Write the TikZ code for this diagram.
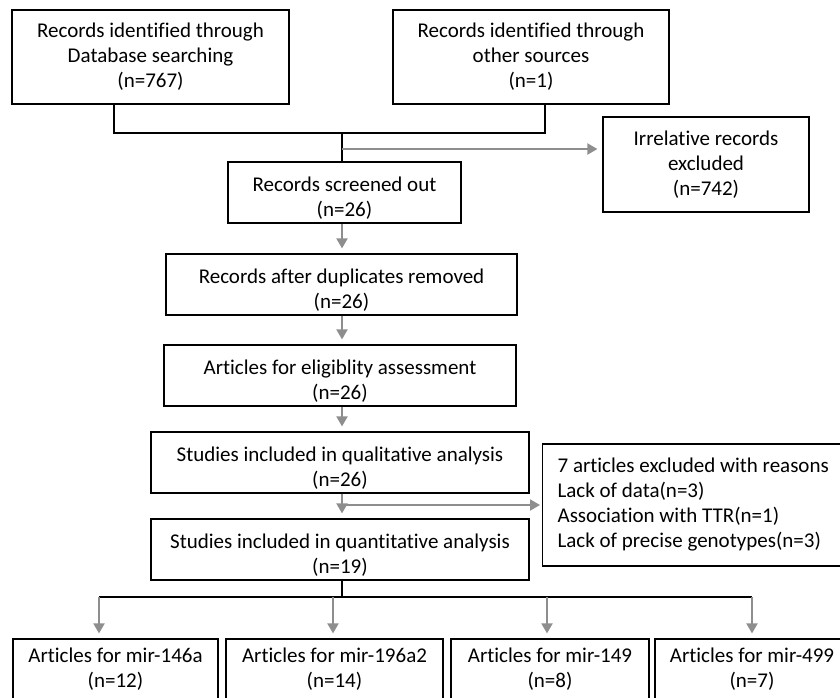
\documentclass[tikz,border=0pt]{standalone}
\usepackage{fontspec}
\setmainfont{Carlito}[Ligatures=NoCommon]
\usetikzlibrary{arrows.meta}
\definecolor{arrgray}{HTML}{8E8E8E}
\tikzset{bx/.style={draw, line width=1.2pt, align=center, inner sep=0pt, font=\fontsize{21}{25}\selectfont}}
\tikzset{ga/.style={draw=arrgray, line width=2pt, shorten >=5pt, -{Triangle[length=10pt,width=11pt]}}}
\tikzset{ln/.style={draw=black, line width=1.2pt}}
\newcommand{\tallrow}{\rule{0pt}{25pt}}

\begin{document}
\begin{tikzpicture}[x=1pt, y=-1pt]
    \path[use as bounding box, clip] (0,0) rectangle (840,697);
    % identification
    \node[bx, minimum width=277pt, minimum height=94pt] (db) at (150.5,57) {Records identified through\\Database searching\\(n=767)};
    \node[bx, minimum width=276pt, minimum height=94pt] (os) at (531,57) {Records identified through\\other sources\\(n=1)};
    \node[bx, minimum width=206pt, minimum height=95pt] (irr) at (706,164.5) {Irrelative records\\excluded\\(n=742)};
    % screening chain
    \node[bx, minimum width=233pt, minimum height=61pt] (scr) at (344.5,192.5) {\tallrow Records screened out\\(n=26)};
    \node[bx, minimum width=351pt, minimum height=61pt] (dup) at (341.5,284.5) {\tallrow Records after duplicates removed\\(n=26)};
    \node[bx, minimum width=352pt, minimum height=61pt] (elig) at (340,375.5) {\tallrow Articles for eligiblity assessment\\(n=26)};
    \node[bx, minimum width=378pt, minimum height=61pt] (ql) at (340,462.5) {\tallrow Studies included in qualitative analysis\\(n=26)};
    \node[bx, minimum width=378pt, minimum height=61pt] (qt) at (340,549.5) {\tallrow Studies included in quantitative analysis\\(n=19)};
    \node[bx, align=left, inner xsep=15pt, minimum height=122pt, anchor=west] (ex) at (542,505) {7 articles excluded with reasons\\Lack of data(n=3)\\Association with TTR(n=1)\\Lack of precise genotypes(n=3)};
    % per-mirna boxes
    \node[bx, minimum width=205pt, minimum height=61pt] (m1) at (115.5,669.5) {Articles for mir-146a\\(n=12)};
    \node[bx, minimum width=217pt, minimum height=61pt] (m2) at (334.5,669.5) {Articles for mir-196a2\\(n=14)};
    \node[bx, minimum width=198pt, minimum height=61pt] (m3) at (550,669.5) {Articles for mir-149\\(n=8)};
    \node[bx, minimum width=194pt, minimum height=61pt] (m4) at (752,669.5) {Articles for mir-499\\(n=7)};

    \coordinate (ja) at (114,133);
    \coordinate (jc) at (545,133);
    \coordinate (jm) at (342,133);
    \coordinate (jx) at (342,149);
    \coordinate (jq) at (342,505);
    \coordinate (jb) at (342,597);
    \coordinate (s1) at (99,597);
    \coordinate (s2) at (333,597);
    \coordinate (s3) at (547,597);
    \coordinate (s4) at (752,597);

    \draw[ln] (ja |- db.south) -- (ja) -- (jc) -- (jc |- os.south);
    \draw[ln] (jm) -- (jm |- scr.north);
    \draw[ga] (jx) -- (jx -| irr.west);
    \draw[ga] (jm |- scr.south) -- (jm |- dup.north);
    \draw[ga] (jm |- dup.south) -- (jm |- elig.north);
    \draw[ga] (jm |- elig.south) -- (jm |- ql.north);
    \draw[ga] (jm |- ql.south) -- (jm |- qt.north);
    \draw[ga, shorten >=2pt] (jq) -- (jq -| ex.west);
    \draw[ln] (jm |- qt.south) -- (jb);
    \draw[ln] (s1) -- (s4);
    \foreach \s/\m in {s1/m1, s2/m2, s3/m3, s4/m4}
      \draw[ga] (\s) -- (\s |- \m.north);
  \end{tikzpicture}
\end{document}
